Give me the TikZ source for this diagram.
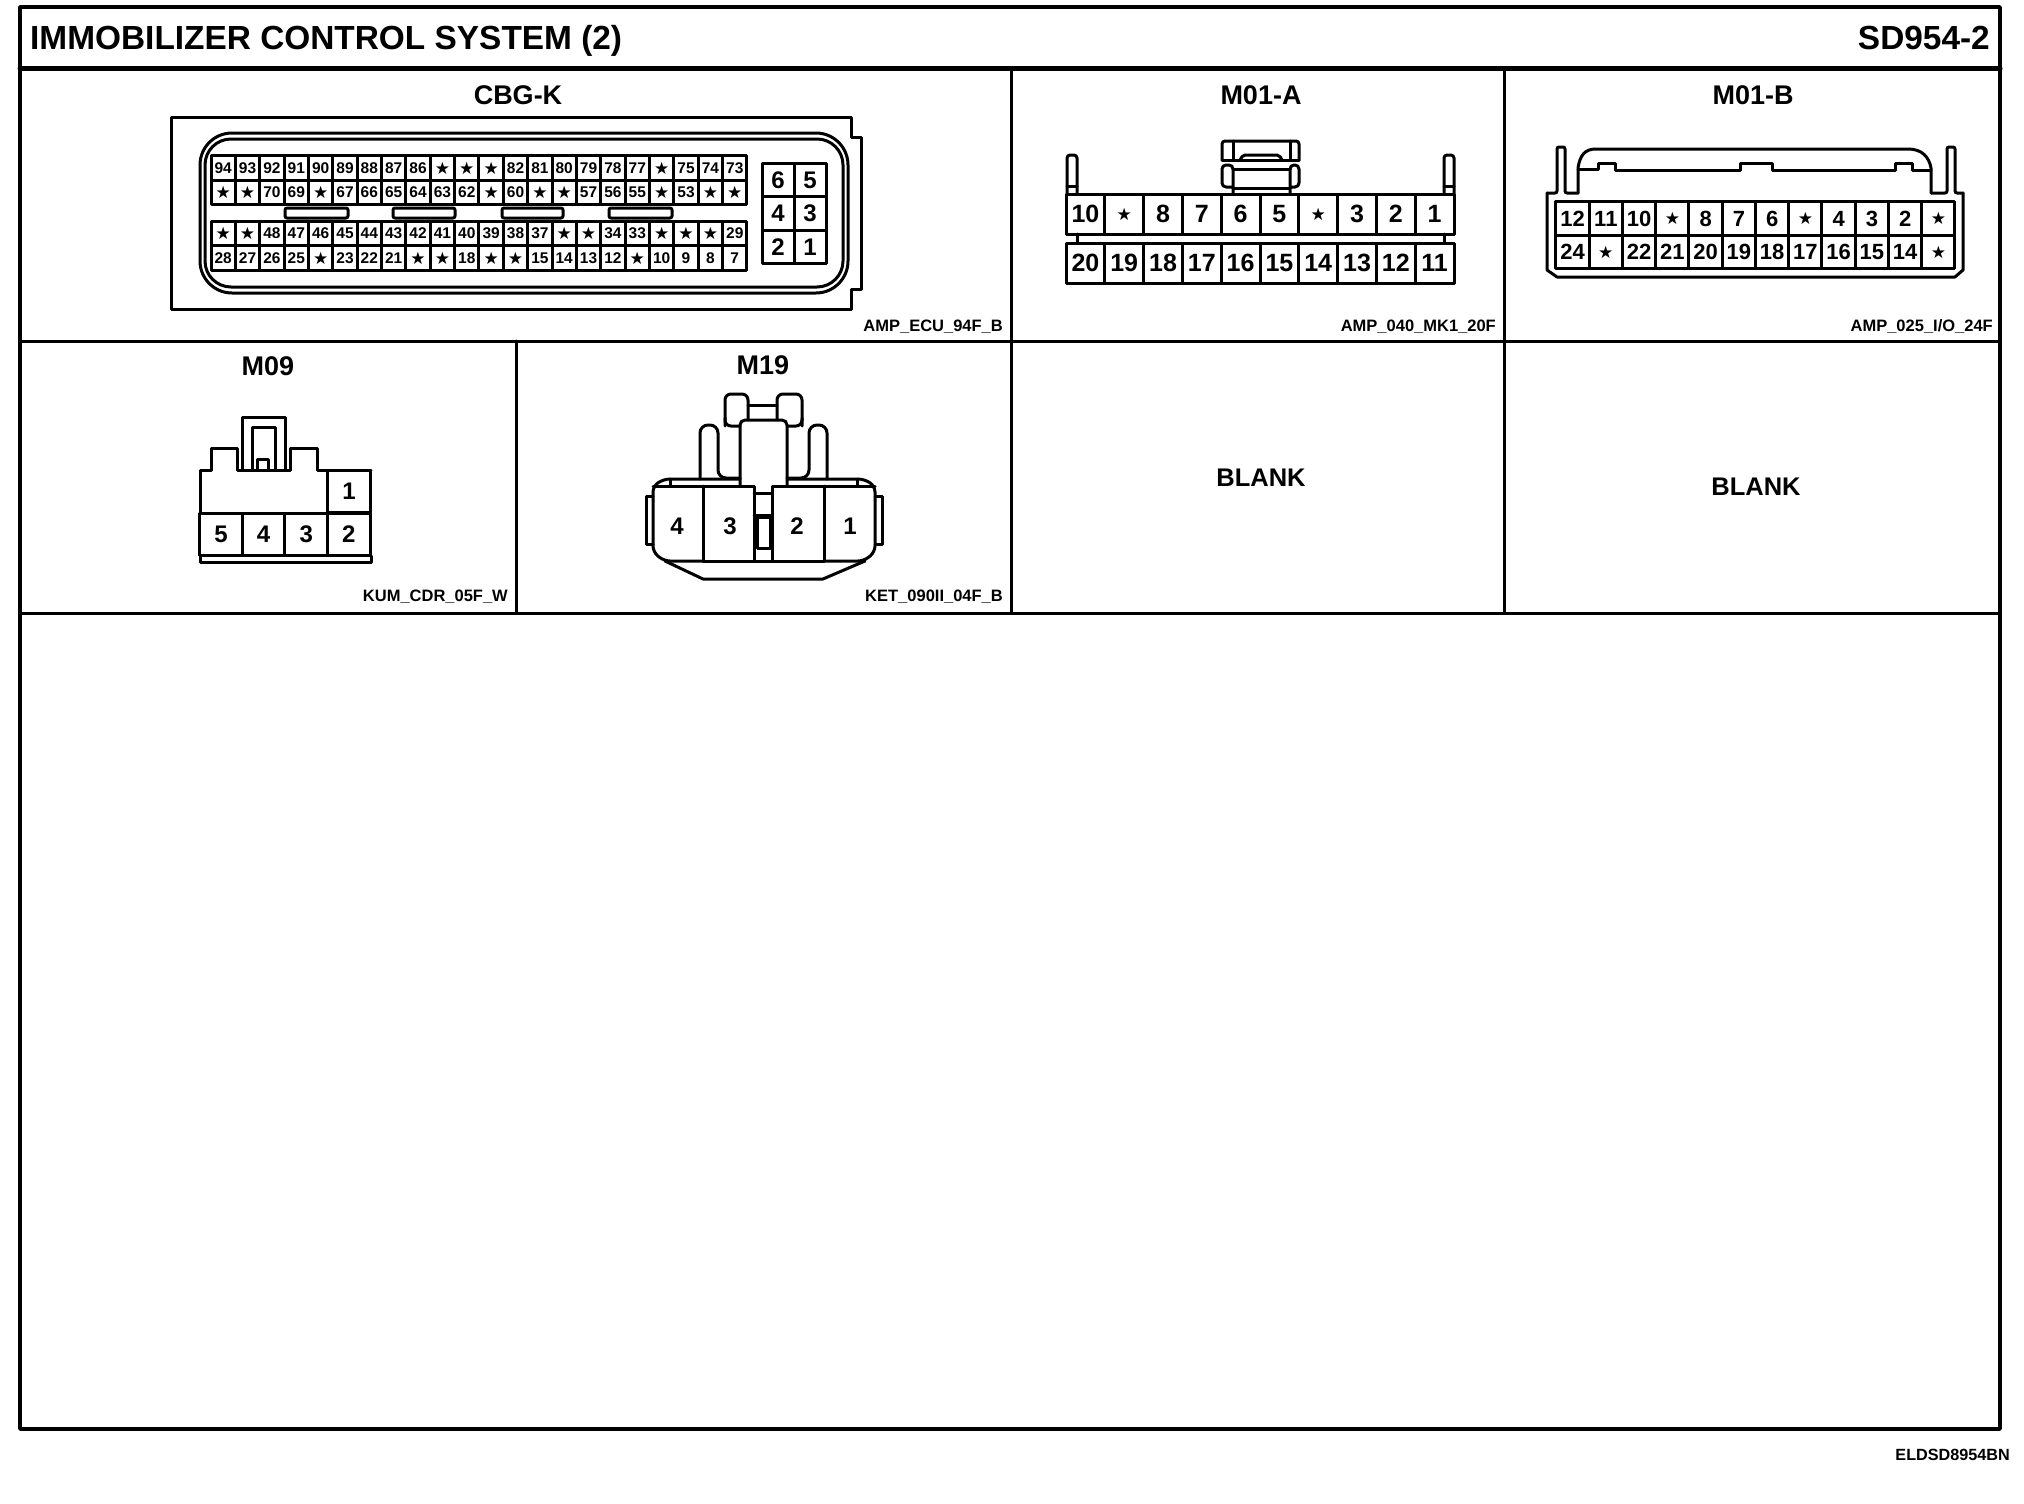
\documentclass[tikz,border=0pt]{standalone}
\usepackage{fontspec}
\setmainfont{Liberation Sans}
\newfontfamily\starfont{DejaVu Sans}
\usetikzlibrary{positioning}
\newcommand{\pinstar}{{\starfont\fontsize{17}{17}\selectfont ★}}
\newcommand{\pinrow}[6]{%
  \foreach \lab [count=\i from 0] in {#6}
    \node[#2] (#1\i) at ({#3+\i*#5}, #4) {\lab};}
\tikzset{
  bigtext/.style={inner sep=0pt, font=\bfseries\fontsize{33.4}{36}\selectfont},
  connname/.style={font=\bfseries\fontsize{27}{30}\selectfont},
  blankname/.style={font=\bfseries\fontsize{25.5}{28}\selectfont},
  codename/.style={anchor=east, inner sep=0pt, font=\bfseries\fontsize{16.5}{18}\selectfont},
  body/.style={line width=3pt},
  pincell/.style={draw, line width=3pt, inner sep=0pt, outer sep=0pt, font=\bfseries\fontsize{#1}{#1}\selectfont},
  pinecu/.style={pincell=15.5, minimum width=24.36pt, minimum height=24.6pt},
  pinaux/.style={pincell=24, minimum width=32pt, minimum height=33.5pt},
  pinmka/.style={pincell=25, minimum width=38.8pt, minimum height=40pt},
  pinmkb/.style={pincell=22, minimum width=33.25pt, minimum height=33.5pt},
  pinkum/.style={pincell=24, minimum width=42.6pt, minimum height=42.5pt},
  pinlabel/.style={inner sep=0pt, font=\bfseries\fontsize{24}{24}\selectfont},
}
\begin{document}
\begin{tikzpicture}[x=1pt, y=-1pt, line cap=round, line join=round]
  \useasboundingbox (0, 0) rectangle (2024, 1504);
  %--- Frame
    \draw[line width=3.4pt] (20, 7) rectangle (2000, 1429);
    \draw[line width=5pt] (20, 69) -- (2000, 69);
    \draw[line width=3pt] (20, 341) -- (2000, 341);
    \draw[line width=3pt] (20, 613) -- (2000, 613);
    \draw[line width=3pt] (1011, 69) -- (1011, 613);
    \draw[line width=3pt] (1504, 69) -- (1504, 613);
    \draw[line width=3pt] (516, 341) -- (516, 613);
  %--- Titles
    \node[bigtext, anchor=base west] (title) at (30, 50) {IMMOBILIZER CONTROL SYSTEM (2)};
    \node[bigtext, anchor=base east] (sheet) at (1990, 50) {SD954-2};
    \node[connname] (cbgk) at (518, 95) {CBG-K};
    \node[connname] (moa) at (1261, 95) {M01-A};
    \node[connname] (mob) at (1753, 95) {M01-B};
    \node[connname] (mnine) at (268, 366) {M09};
    \node[connname] (mnineteen) at (763, 365) {M19};
    \node[blankname] (blanka) at (1261, 478) {BLANK};
    \node[blankname] (blankb) at (1756, 487) {BLANK};
    \node[codename] (codecbgk) at (1003, 327) {AMP\_ECU\_94F\_B};
    \node[codename] (codemoa) at (1496, 327) {AMP\_040\_MK1\_20F};
    \node[codename] (codemob) at (1993, 327) {AMP\_025\_I/O\_24F};
    \node[codename] (codemnine) at (508, 597) {KUM\_CDR\_05F\_W};
    \node[codename] (codemnineteen) at (1003, 597) {KET\_090II\_04F\_B};
    \node[anchor=east, inner sep=0pt, font=\bfseries\fontsize{16.2}{18}\selectfont] (drawing) at (2010, 1455) {ELDSD8954BN};
  %--- CBG-K
    \draw[body] (171, 117) -- (851, 117) -- (851, 137) -- (861, 137) -- (861, 289) -- (851, 289) -- (851, 309) -- (171, 309) -- cycle;
    \draw[body, rounded corners=32pt] (200, 133) rectangle (848, 293);
    \draw[body, rounded corners=26pt] (205, 139) rectangle (843, 287);
    \pinrow{a}{pinecu}{223.2}{168}{24.36}{94,93,92,91,90,89,88,87,86,\pinstar,\pinstar,\pinstar,82,81,80,79,78,77,\pinstar,75,74,73}
    \pinrow{b}{pinecu}{223.2}{192.6}{24.36}{\pinstar,\pinstar,70,69,\pinstar,67,66,65,64,63,62,\pinstar,60,\pinstar,\pinstar,57,56,55,\pinstar,53,\pinstar,\pinstar}
    \pinrow{c}{pinecu}{223.2}{233.5}{24.36}{\pinstar,\pinstar,48,47,46,45,44,43,42,41,40,39,38,37,\pinstar,\pinstar,34,33,\pinstar,\pinstar,\pinstar,29}
    \pinrow{d}{pinecu}{223.2}{258.1}{24.36}{28,27,26,25,\pinstar,23,22,21,\pinstar,\pinstar,18,\pinstar,\pinstar,15,14,13,12,\pinstar,10,9,8,7}
    \foreach \keyl/\keyr in {285/348, 393/455, 502/563, 609/672}
      \draw[line width=3pt, rounded corners=2pt] (\keyl, 208) rectangle (\keyr, 218);
    \pinrow{e}{pinaux}{778}{180}{32}{6,5}
    \pinrow{f}{pinaux}{778}{213.5}{32}{4,3}
    \pinrow{g}{pinaux}{778}{247}{32}{2,1}
  %--- M01-A
    \pinrow{h}{pinmka}{1085.4}{214}{38.8}{10,\pinstar,8,7,6,5,\pinstar,3,2,1}
    \pinrow{j}{pinmka}{1085.4}{263}{38.8}{20,19,18,17,16,15,14,13,12,11}
    \foreach \postx in {1067, 1444} {
      \draw[body, rounded corners=3pt] (\postx, 194) -- (\postx, 155) -- (\postx+10, 155) -- (\postx+10, 194);
      \draw[body] (\postx, 186) -- (\postx+10, 186);
    }
    \draw[body] (1077, 234) -- (1077, 243);
    \draw[body] (1444, 234) -- (1444, 243);
    \draw[body, rounded corners=3pt] (1222, 160) -- (1222, 141) -- (1299, 141) -- (1299, 160);
    \draw[body] (1222, 160) -- (1299, 160);
    \draw[body] (1233, 141) -- (1233, 160);
    \draw[body] (1290, 141) -- (1290, 160);
    \draw[body, rounded corners=2pt] (1240, 160) -- (1243, 155) -- (1279, 155) -- (1282, 160);
    \draw[body, rounded corners=4pt] (1233, 187) -- (1222, 187) -- (1222, 165) -- (1233, 165) -- (1233, 194);
    \draw[body, rounded corners=4pt] (1290, 187) -- (1299, 187) -- (1299, 165) -- (1290, 165) -- (1290, 194);
    \draw[body] (1233, 169) -- (1290, 169);
    \draw[body] (1233, 188) -- (1290, 188);
  %--- M01-B
    \draw[body, rounded corners=2pt] (1547, 193) -- (1557, 193) -- (1557, 147) -- (1565, 147) -- (1565, 193) -- (1578, 193);
    \draw[body, rounded corners=2pt] (1963, 193) -- (1955, 193) -- (1955, 147) -- (1947, 147) -- (1947, 193) -- (1931, 193);
    \draw[body] (1547, 193) -- (1547, 270) -- (1557, 277) -- (1955, 277) -- (1963, 270) -- (1963, 193);
    \draw[body] (1578, 193) -- (1578, 168) .. controls (1580, 155) and (1585, 149) .. (1596, 149) -- (1908, 149) .. controls (1922, 149) and (1929, 157) .. (1931, 168) -- (1931, 193);
    \draw[body] (1578, 169) -- (1598, 169) -- (1598, 163) -- (1615, 163) -- (1615, 170) -- (1740, 170) -- (1740, 163) -- (1772, 163) -- (1772, 170) -- (1895, 170) -- (1895, 163) -- (1912, 163) -- (1912, 170) -- (1931, 170);
    \pinrow{k}{pinmkb}{1572.6}{218.5}{33.25}{12,11,10,\pinstar,8,7,6,\pinstar,4,3,2,\pinstar}
    \pinrow{l}{pinmkb}{1572.6}{252}{33.25}{24,\pinstar,22,21,20,19,18,17,16,15,14,\pinstar}
  %--- M09
    \draw[body] (200, 513) -- (200, 470) -- (211, 470) -- (211, 448) -- (237, 448) -- (237, 470) -- (290, 470) -- (290, 448) -- (317, 448) -- (317, 470) -- (371, 470);
    \draw[body] (242, 470) -- (242, 417) -- (285, 417) -- (285, 470);
    \draw[body] (252, 470) -- (252, 427) -- (275, 427) -- (275, 470);
    \draw[body] (257, 470) -- (257, 459) -- (268, 459) -- (268, 470);
    \pinrow{m}{pinkum}{221}{534.5}{42.6}{5,4,3,2}
    \node[pinkum] (n0) at (349, 491.5) {1};
    \draw[body] (200, 556) -- (200, 562) -- (371, 562) -- (371, 556);
  %--- M19
    \draw[body, rounded corners=6pt] (653, 500) -- (653, 486) -- (664, 479) -- (740, 479);
    \draw[body, rounded corners=6pt] (875, 500) -- (875, 486) -- (864, 479) -- (787, 479);
    \draw[body] (670, 479) -- (670, 486);
    \draw[body] (857, 479) -- (857, 486);
    \draw[body, rounded corners=6pt] (725, 426) -- (725, 394) -- (748, 394) -- (748, 420);
    \draw[body, rounded corners=6pt] (725, 418) -- (725, 426) -- (740, 426);
    \draw[body, rounded corners=6pt] (802, 426) -- (802, 394) -- (777, 394) -- (777, 420);
    \draw[body, rounded corners=6pt] (802, 418) -- (802, 426) -- (787, 426);
    \draw[body] (748, 405) -- (777, 405);
    \draw[body, rounded corners=5pt] (740, 486) -- (740, 420) -- (787, 420) -- (787, 486);
    \draw[body, rounded corners=8pt] (700, 479) -- (700, 425) -- (718, 425) -- (718, 478) -- (740, 478);
    \draw[body, rounded corners=8pt] (827, 479) -- (827, 425) -- (809, 425) -- (809, 478) -- (787, 478);
    \draw[body, rounded corners=6pt] (703, 561) -- (664, 561) -- (653, 552) -- (653, 500);
    \draw[body, rounded corners=6pt] (824, 561) -- (864, 561) -- (875, 552) -- (875, 500);
    \draw[body] (703, 486) -- (703, 561);
    \draw[body] (824, 486) -- (824, 561);
    \draw[body] (653, 486) -- (754, 486) -- (754, 561);
    \draw[body] (875, 486) -- (772, 486) -- (772, 561);
    \draw[body] (703, 561) -- (824, 561);
    \draw[body] (754, 493) -- (772, 493);
    \draw[body] (754, 515) -- (772, 515);
    \draw[body] (757, 517) rectangle (770, 548);
    \draw[body] (665, 561) -- (703, 579) -- (823, 579) -- (865, 561);
    \draw[body] (653, 496) -- (646, 496) -- (646, 544) -- (653, 544);
    \draw[body] (875, 496) -- (882, 496) -- (882, 544) -- (875, 544);
    \node[pinlabel] (o4) at (677, 526) {4};
    \node[pinlabel] (o3) at (730, 526) {3};
    \node[pinlabel] (o2) at (797, 526) {2};
    \node[pinlabel] (o1) at (850, 526) {1};
\end{tikzpicture}
\end{document}
